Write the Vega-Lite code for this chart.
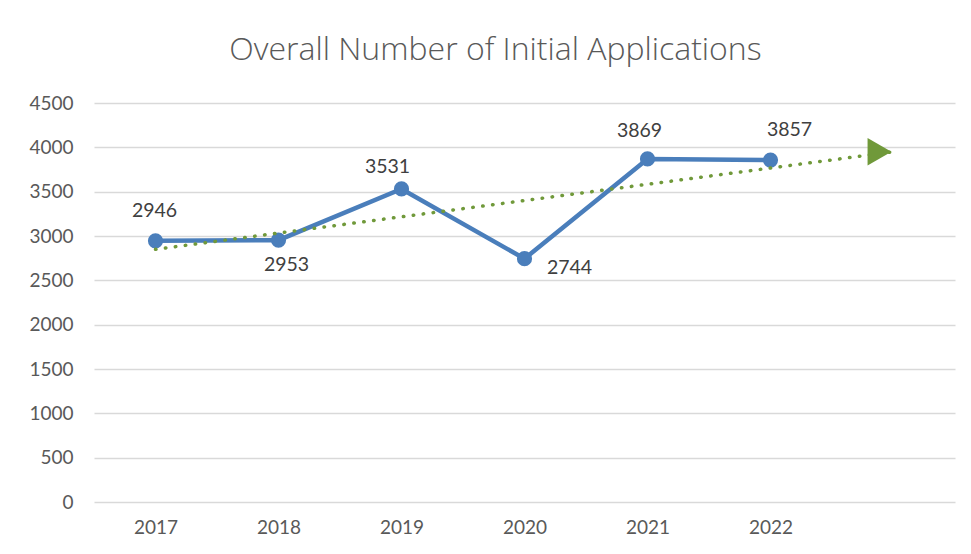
{
  "$schema": "https://vega.github.io/schema/vega-lite/v6.json",
  "width": 861,
  "height": 399,
  "autosize": {"type": "none"},
  "padding": {"left": 94, "top": 103, "right": 16, "bottom": 52},
  "background": "white",
  "config": {
    "view": {"stroke": null},
    "font": "Lato",
    "axis": {"labelFont": "Lato", "labelFontSize": 19, "labelColor": "#595959"}
  },
  "title": {
    "text": "Overall Number of Initial Applications",
    "font": "Open Sans",
    "fontWeight": 300,
    "fontSize": 32,
    "color": "#595959",
    "anchor": "middle",
    "frame": "group",
    "baseline": "alphabetic",
    "offset": 2,
    "dx": -29
  },
  "datasets": {
    "apps": [
      {"year": 2017, "applications": 2946},
      {"year": 2018, "applications": 2953},
      {"year": 2019, "applications": 3531},
      {"year": 2020, "applications": 2744},
      {"year": 2021, "applications": 3869},
      {"year": 2022, "applications": 3857}
    ],
    "trend": [
      {"year": 2017, "trend": 2850},
      {"year": 2023, "trend": 3950}
    ]
  },
  "encoding": {
    "x": {
      "field": "year",
      "type": "quantitative",
      "scale": {"domain": [2016.5, 2023.5], "nice": false, "zero": false},
      "axis": {
        "title": null,
        "values": [2017, 2018, 2019, 2020, 2021, 2022],
        "format": "d",
        "grid": false,
        "domain": false,
        "ticks": false,
        "labelPadding": 16
      }
    }
  },
  "layer": [
    {
      "data": {"name": "apps"},
      "mark": {"type": "line", "color": "#4A7EBB", "strokeWidth": 4.5},
      "encoding": {
        "y": {
          "field": "applications",
          "type": "quantitative",
          "scale": {"domain": [0, 4500], "nice": false},
          "axis": {
            "title": null,
            "values": [0, 500, 1000, 1500, 2000, 2500, 3000, 3500, 4000, 4500],
            "format": "d",
            "grid": true,
            "gridColor": "#D9D9D9",
            "gridWidth": 1.5,
            "domain": false,
            "ticks": false,
            "labelPadding": 21
          }
        }
      }
    },
    {
      "data": {"name": "apps"},
      "mark": {"type": "point", "shape": "circle", "filled": true, "opacity": 1, "color": "#4A7EBB", "size": 230},
      "encoding": {"y": {"field": "applications", "type": "quantitative"}}
    },
    {
      "data": {"name": "trend"},
      "mark": {"type": "line", "color": "#70993A", "strokeWidth": 3.5, "strokeDash": [0.5, 9.5], "strokeCap": "round"},
      "encoding": {"y": {"field": "trend", "type": "quantitative"}}
    },
    {
      "data": {"name": "trend"},
      "transform": [{"filter": "datum.year == 2023"}],
      "mark": {"type": "point", "shape": "triangle-right", "filled": true, "opacity": 1, "color": "#70993A", "size": 760, "xOffset": -14},
      "encoding": {"y": {"field": "trend", "type": "quantitative"}}
    },
    {
      "data": {"name": "apps"},
      "transform": [{"filter": "datum.year == 2017"}],
      "mark": {"type": "text", "font": "Lato", "fontSize": 19.5, "color": "#404040", "baseline": "middle", "dx": -1, "dy": -30},
      "encoding": {"y": {"field": "applications", "type": "quantitative"}, "text": {"field": "applications", "type": "quantitative"}}
    },
    {
      "data": {"name": "apps"},
      "transform": [{"filter": "datum.year == 2018"}],
      "mark": {"type": "text", "font": "Lato", "fontSize": 19.5, "color": "#404040", "baseline": "middle", "dx": 8, "dy": 25},
      "encoding": {"y": {"field": "applications", "type": "quantitative"}, "text": {"field": "applications", "type": "quantitative"}}
    },
    {
      "data": {"name": "apps"},
      "transform": [{"filter": "datum.year == 2019"}],
      "mark": {"type": "text", "font": "Lato", "fontSize": 19.5, "color": "#404040", "baseline": "middle", "dx": -14, "dy": -22},
      "encoding": {"y": {"field": "applications", "type": "quantitative"}, "text": {"field": "applications", "type": "quantitative"}}
    },
    {
      "data": {"name": "apps"},
      "transform": [{"filter": "datum.year == 2020"}],
      "mark": {"type": "text", "font": "Lato", "fontSize": 19.5, "color": "#404040", "baseline": "middle", "dx": 45, "dy": 9},
      "encoding": {"y": {"field": "applications", "type": "quantitative"}, "text": {"field": "applications", "type": "quantitative"}}
    },
    {
      "data": {"name": "apps"},
      "transform": [{"filter": "datum.year == 2021"}],
      "mark": {"type": "text", "font": "Lato", "fontSize": 19.5, "color": "#404040", "baseline": "middle", "dx": -8, "dy": -28},
      "encoding": {"y": {"field": "applications", "type": "quantitative"}, "text": {"field": "applications", "type": "quantitative"}}
    },
    {
      "data": {"name": "apps"},
      "transform": [{"filter": "datum.year == 2022"}],
      "mark": {"type": "text", "font": "Lato", "fontSize": 19.5, "color": "#404040", "baseline": "middle", "dx": 19, "dy": -30},
      "encoding": {"y": {"field": "applications", "type": "quantitative"}, "text": {"field": "applications", "type": "quantitative"}}
    }
  ]
}
